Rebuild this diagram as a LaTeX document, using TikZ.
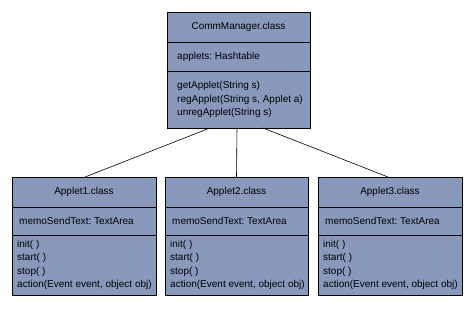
\documentclass[tikz,border=0pt]{standalone}
\usepackage{fontspec}
\setmainfont{Liberation Sans}
\frenchspacing
\usetikzlibrary{positioning}
\definecolor{classfill}{RGB}{136,153,187}
\tikzset{
  part/.style={draw=black, fill=classfill, line width=0.9pt, inner sep=0pt, outer sep=0pt,
    minimum width=#1, font=\fontsize{10}{13.5}\selectfont},
  memb/.style={inner sep=0pt, align=left, font=\fontsize{10}{13.5}\selectfont},
}
\begin{document}
\begin{tikzpicture}[x=1pt, y=1pt]
      \useasboundingbox (0,0) rectangle (474,309);
      \node[part=143pt, minimum height=30pt, anchor=north] (mgr) at (238.5,297) {CommManager.class};
      \node[part=143pt, minimum height=29pt, below=0pt of mgr] (mgrattr) {};
      \node[part=143pt, minimum height=57pt, below=0pt of mgrattr] (mgrops) {};
      \node[memb, right=10pt of mgrattr.west] {applets: Hashtable};
      \node[memb, right=10pt of mgrops.west]
        {getApplet(String s)\\regApplet(String s, Applet a)\\unregApplet(String s)};
      \node[part=144pt, minimum height=30pt, anchor=north] (app1) at (84,132) {Applet1.class};
      \node[part=144pt, minimum height=28pt, below=0pt of app1] (app1attr) {};
      \node[part=144pt, minimum height=60pt, below=0pt of app1attr] (app1ops) {};
      \node[memb, right=7pt of app1attr.west] {memoSendText: TextArea};
      \node[memb, right=5pt of app1ops.west]
        {init( )\\start( )\\stop( )\\action(Event event, object obj)};
      \node[part=143pt, minimum height=30pt, anchor=north] (app2) at (236.5,132) {Applet2.class};
      \node[part=143pt, minimum height=28pt, below=0pt of app2] (app2attr) {};
      \node[part=143pt, minimum height=60pt, below=0pt of app2attr] (app2ops) {};
      \node[memb, right=7pt of app2attr.west] {memoSendText: TextArea};
      \node[memb, right=5pt of app2ops.west]
        {init( )\\start( )\\stop( )\\action(Event event, object obj)};
      \node[part=144pt, minimum height=30pt, anchor=north] (app3) at (390,132) {Applet3.class};
      \node[part=144pt, minimum height=28pt, below=0pt of app3] (app3attr) {};
      \node[part=144pt, minimum height=60pt, below=0pt of app3attr] (app3ops) {};
      \node[memb, right=7pt of app3attr.west] {memoSendText: TextArea};
      \node[memb, right=5pt of app3ops.west]
        {init( )\\start( )\\stop( )\\action(Event event, object obj)};
      \draw[line width=0.6pt] ([xshift=-28.5pt]mgrops.south) -- ([xshift=1pt]app1.north);
      \draw[line width=0.6pt] ([xshift=-1.5pt]mgrops.south) -- (app2.north);
      \draw[line width=0.6pt] ([xshift=24.5pt]mgrops.south) -- ([xshift=-2pt]app3.north);
    \end{tikzpicture}
\end{document}
